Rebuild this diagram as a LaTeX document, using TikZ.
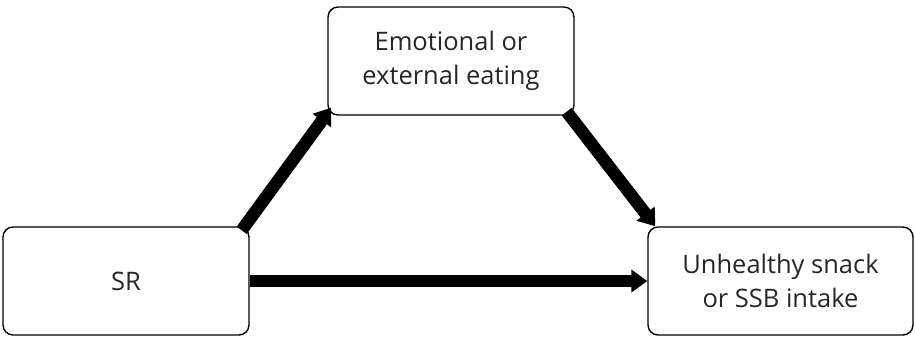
\documentclass[tikz,border=0pt]{standalone}
\usepackage{fontspec}
\setmainfont{Open Sans}
\usetikzlibrary{positioning,arrows.meta}

\begin{document}
\begin{tikzpicture}[
    x=0.02cm, y=-0.02cm,
    every node/.style={inner sep=2pt},
    caja/.style={draw, rounded corners=0.2cm, line width=0.8pt, align=center,
        minimum height=2.16cm, text=black!85,
        font=\fontsize{14.5}{19}\selectfont},
    flecha/.style={-{Triangle[length=0.32cm,width=0.44cm]}, line width=0.25cm}
]
\useasboundingbox (0,0) rectangle (915,338);

% Cajas
\node[caja, minimum width=4.92cm] (SR) at (126,281) {SR};
\node[caja, minimum width=4.92cm] (emo) at (451,61) {Emotional or\\external eating};
\node[caja, minimum width=5.3cm] (ssb) at (780.5,281) {Unhealthy snack\\or SSB intake};

% Flechas
\draw[flecha] ([shift={(-8,4)}]SR.north east) -- ([shift={(4,-8)}]emo.south west);
\draw[flecha] ([shift={(-8,-4)}]emo.south east) -- ([shift={(8,0)}]ssb.north west);
\draw[flecha] (SR.east) -- (ssb.west);

\end{tikzpicture}
\end{document}
